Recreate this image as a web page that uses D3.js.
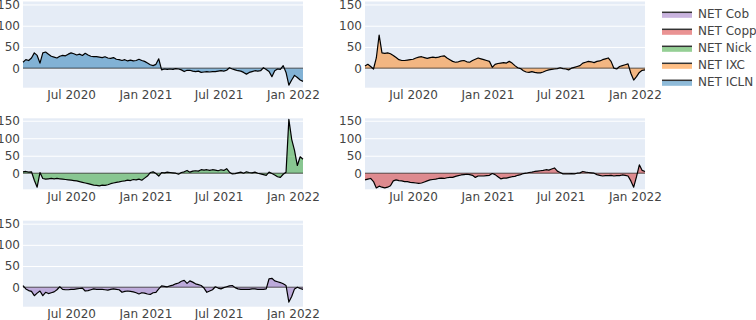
<!DOCTYPE html>
<html>
<head>
<meta charset="utf-8">
<script src="https://cdn.jsdelivr.net/npm/d3@7"></script>
<style>
  body { margin: 0; background: #fff; }
  svg { display: block; font-family: "DejaVu Sans", Verdana, sans-serif; }
</style>
</head>
<body>
<script>
// Weekly samples, first week and number of weeks.
const startDate = new Date(Date.UTC(2020, 2, 4))
const weekCount = 100

// Series values, one per week.
const icln = [14, 20, 18, 24, 36, 30, 12, 36, 38, 33, 28, 26, 24, 28, 30, 29, 33, 36, 34, 31,
  33, 30, 35, 31, 28, 27, 27, 26, 25, 27, 24, 23, 25, 21, 20, 18, 20, 17, 19, 17,
  18, 21, 18, 16, 12, 8, 6, 9, 22, -4, -2, -3, -2, -3, -1, -2, -4, -8, -5, -5,
  -7, -8, -7, -10, -9, -8, -9, -8, -8, -7, -6, -7, -5, 1, -2, -4, -6, -7, -10, -14,
  -10, -8, -6, -7, -6, 1, -3, -8, -20, -6, -2, -3, 6, -10, -40, -28, -17, -22, -28, -31]

const ixc = [5, 9, 4, -2, 24, 78, 36, 35, 36, 34, 30, 25, 20, 18, 18, 19, 20, 21, 24, 26,
  27, 25, 23, 25, 26, 25, 26, 28, 29, 24, 20, 16, 14, 15, 17, 18, 15, 14, 18, 21,
  24, 22, 20, 18, 16, 2, 9, 11, 12, 13, 12, 16, 12, 6, 1, -1, -6, -9, -10, -8,
  -10, -11, -11, -9, -6, -4, -3, -2, -1, 1, -1, -2, -4, 0, 2, 4, 6, 12, 14, 16,
  15, 13, 16, 17, 20, 22, 24, 16, 0, -2, 4, 6, 8, 10, -12, -28, -20, -10, -5, -4]

const nick = [4, 5, 3, 4, -20, -40, 2, -15, -17, -16, -15, -16, -15, -16, -17, -18, -19, -20, -21, -22,
  -24, -26, -28, -30, -32, -34, -35, -36, -34, -35, -33, -30, -28, -26, -25, -23, -22, -20, -21, -18,
  -19, -17, -20, -14, -8, 2, 4, -1, -8, 2, 1, 3, 2, 1, 0, -3, 2, 4, 8, 3,
  6, 7, 6, 10, 9, 10, 8, 10, 9, 7, 10, 8, 13, 3, -2, -1, 1, 3, 0, 4,
  2, 1, 3, 0, -2, -4, -6, 3, -1, -5, -10, -12, -3, 3, 154, 97, 65, 22, 47, 40]

const copp = [-19, -17, -15, -24, -42, -37, -40, -42, -40, -36, -22, -19, -21, -22, -24, -24, -26, -27, -28, -29,
  -28, -25, -22, -19, -18, -17, -15, -14, -15, -13, -12, -12, -9, -7, -5, -4, -3, -4, -6, -12,
  -8, -8, -8, -7, -6, -1, -4, -10, -16, -14, -14, -12, -10, -9, -6, -4, -1, 0, 2, 3,
  5, 6, 7, 8, 10, 9, 12, 15, 6, 2, -2, -2, -2, -1, -2, 0, 1, 5, 3, 2,
  1, 0, -4, -6, -8, -7, -7, -6, -8, -7, -7, -5, -6, -8, -22, -40, -10, 24, 8, 5]

const cob = [4, -4, -8, -10, -20, -14, -9, -20, -12, -15, -13, -11, -6, 1, -5, -6, -6, -5, -5, -4,
  -3, -2, -9, -8, -6, -4, -5, -5, -5, -6, -7, -5, -4, -5, -6, -12, -10, -9, -10, -11,
  -13, -16, -13, -14, -16, -17, -13, -12, -4, 3, 2, 1, 3, 5, 8, 10, 14, 16, 9, 15,
  12, 8, 6, 4, -2, -12, -9, -6, 1, -2, -4, -1, 1, 3, 4, -1, -4, -5, -5, -5,
  -5, -4, -4, -5, -5, -5, -4, 20, 21, 15, 13, 11, 8, 4, -35, -22, -4, 0, -3, -5]

// Tick values and labels.
const xTickDates = ['2020-07-01', '2021-01-01', '2021-07-01', '2022-01-01']
const xTickLabels = ['Jul 2020', 'Jan 2021', 'Jul 2021', 'Jan 2022']
const yTicks = [0, 50, 100, 150]

// Legend order (top to bottom) and fill colours.
const legendNames = ['NET Cob', 'NET Copp', 'NET Nick', 'NET IXC', 'NET ICLN']
const legendColors = ['#9467bd', '#d62728', '#2ca02c', '#ff7f0e', '#1f77b4']

const dates = d3.range(weekCount).map(i => d3.utcDay.offset(startDate, 7 * i))

// Panel placement.
const cols = [{ left: 23, right: 303 }, { left: 365, right: 645 }]
const rows = [{ top: 1.5, bottom: 87.7 }, { top: 118.3, bottom: 189.3 }, { top: 220.7, bottom: 306.7 }]

const panels = [
  { values: icln, color: '#1f77b4', row: 0, col: 0 },
  { values: ixc, color: '#ff7f0e', row: 0, col: 1 },
  { values: nick, color: '#2ca02c', row: 1, col: 0 },
  { values: copp, color: '#d62728', row: 1, col: 1 },
  { values: cob, color: '#9467bd', row: 2, col: 0 }
]

const svg = d3.select('body')
  .append('svg')
    .attr('width', 756)
    .attr('height', 320)

const parse = d3.utcParse('%Y-%m-%d')

panels.forEach(p => {
  const c = cols[p.col]
  const r = rows[p.row]

  const x = d3.scaleUtc()
    .domain(d3.extent(dates))
    .range([c.left, c.right])
  const y = d3.scaleLinear()
    .domain([-46, 157])
    .range([r.bottom, r.top])

  const g = svg.append('g')

  // Plot background.
  g.append('rect')
    .attr('x', c.left)
    .attr('y', r.top)
    .attr('width', c.right - c.left)
    .attr('height', r.bottom - r.top)
    .attr('fill', '#e5ecf6')

  // Grid lines and y labels.
  g.append('g')
    .attr('transform', `translate(${c.left}, 0)`)
    .call(d3.axisLeft(y).tickValues(yTicks).tickSize(-(c.right - c.left)).tickPadding(3))
    .call(a => a.select('.domain').remove())
    .call(a => a.selectAll('line').attr('stroke', '#fff').attr('stroke-width', 1))
    .call(a => a.selectAll('text')
      .attr('fill', '#444')
      .style('font-size', '12px')
      .style('font-family', '"DejaVu Sans", Verdana, sans-serif'))

  // X labels.
  g.append('g')
    .attr('transform', `translate(0, ${r.bottom})`)
    .call(d3.axisBottom(x)
      .tickValues(xTickDates.map(parse))
      .tickFormat((d, i) => xTickLabels[i])
      .tickSize(0)
      .tickPadding(3))
    .call(a => a.select('.domain').remove())
    .call(a => a.selectAll('text')
      .attr('fill', '#444')
      .style('font-size', '12px')
      .style('font-family', '"DejaVu Sans", Verdana, sans-serif'))

  const series = p.values.map((v, i) => ({ date: dates[i], value: v }))

  // Fill to zero.
  g.append('path')
    .datum(series)
    .attr('fill', p.color)
    .attr('fill-opacity', 0.5)
    .attr('d', d3.area()
      .x(d => x(d.date))
      .y0(y(0))
      .y1(d => y(d.value)))

  // Zero line.
  g.append('line')
    .attr('x1', c.left)
    .attr('x2', c.right)
    .attr('y1', y(0))
    .attr('y2', y(0))
    .attr('stroke', '#000')
    .attr('stroke-opacity', 0.65)
    .attr('stroke-width', 1)

  // Data line.
  g.append('path')
    .datum(series)
    .attr('fill', 'none')
    .attr('stroke', '#000')
    .attr('stroke-width', 1.2)
    .attr('stroke-linejoin', 'round')
    .attr('d', d3.line()
      .x(d => x(d.date))
      .y(d => y(d.value)))
})

// Legend.
const legend = svg.append('g')
  .selectAll('g')
  .data(legendNames)
  .enter().append('g')
    .attr('transform', (d, i) => `translate(662, ${12.3 + 17 * i})`)

legend.append('rect')
  .attr('x', 0)
  .attr('y', 0)
  .attr('width', 30)
  .attr('height', 5.5)
  .attr('fill', (d, i) => legendColors[i])
  .attr('fill-opacity', 0.5)

legend.append('line')
  .attr('x1', 0)
  .attr('x2', 30)
  .attr('stroke', '#333')
  .attr('stroke-width', 1.5)

legend.append('text')
  .attr('x', 36)
  .attr('y', 6)
  .attr('fill', '#444')
  .style('font-size', '12px')
  .text(d => d)
</script>
</body>
</html>
